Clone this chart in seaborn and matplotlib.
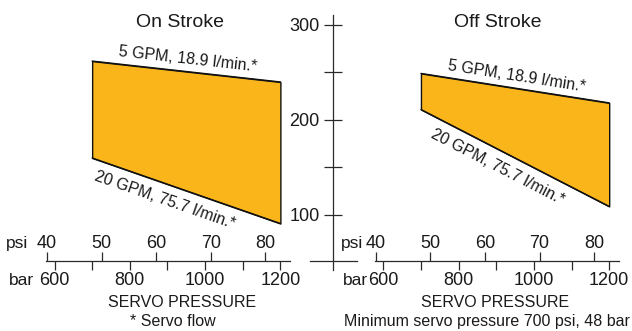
import numpy as np
import pandas as pd
import matplotlib.pyplot as plt
import seaborn as sns

# servo pressure (lower scale) where the flow band starts and ends
psi_range = [700, 1200]

# band edges (y axis units)
on_5gpm = [262, 240]
on_20gpm = [160, 91]
off_5gpm = [249, 218]
off_20gpm = [211, 109]

panel_titles = ["On Stroke", "Off Stroke"]
label_5gpm = "5 GPM, 18.9 l/min.*"
label_20gpm = "20 GPM, 75.7 l/min.*"

y_major = [100, 200, 300]
y_minor = [150, 250]
lower_major = [600, 800, 1000, 1200]
lower_minor = [700, 900, 1100]
upper_major = [40, 50, 60, 70, 80]
PSI_PER_BAR = 14.5

df = pd.DataFrame({
    "panel": ["On Stroke"] * 4 + ["Off Stroke"] * 4,
    "edge": ["5 GPM", "5 GPM", "20 GPM", "20 GPM"] * 2,
    "pressure": psi_range * 4,
    "flow": on_5gpm + on_20gpm + off_5gpm + off_20gpm,
})

sns.set_theme(style="white")
plt.rcParams["font.family"] = ["Liberation Sans", "DejaVu Sans"]

W, H = 632, 331
fig = plt.figure(figsize=(W / 100, H / 100), dpi=100)
ink = "#2a2a2a"
fill = "#f9b51a"

YLIM = (42.1, 310.5)
XLIM = (576.6, 1225.5)
AXIS_Y = 51.6


def px_box(x0, x1, y0=15, y1=270):
    return [x0 / W, 1 - y1 / H, (x1 - x0) / W, (y1 - y0) / H]


def edge_label(ax, xs, ys, text, at, gap, below):
    a, b = ax.transData.transform(list(zip(xs, ys)))
    ang = np.degrees(np.arctan2(b[1] - a[1], b[0] - a[0]))
    t = (at - xs[0]) / (xs[1] - xs[0])
    ym = ys[0] + t * (ys[1] - ys[0])
    r = np.radians(ang)
    ax.annotate(text, (at, ym), xytext=(-np.sin(r) * gap, np.cos(r) * gap),
                textcoords="offset points", rotation=ang, rotation_mode="anchor",
                ha="center", va="top" if below else "bottom",
                fontsize=11.5, color="#1a1a1a")


panels = [("On Stroke", 45.7, on_5gpm, on_20gpm, 908),
          ("Off Stroke", 374.5, off_5gpm, off_20gpm, 924)]

for name, x0, hi, lo, low_at in panels:
    ax = fig.add_axes(px_box(x0, x0 + 244.3))
    ax.patch.set_visible(False)
    ax.set_xlim(XLIM)
    ax.set_ylim(YLIM)
    ax.fill_between(psi_range, lo, hi, facecolor=fill, edgecolor="#111111", linewidth=1.0)
    sns.lineplot(data=df[df["panel"] == name], x="pressure", y="flow", units="edge",
                 estimator=None, color="#111111", linewidth=1.0, ax=ax, legend=False)
    ax.set(xlabel="", ylabel="")
    for s in ["top", "left", "right"]:
        ax.spines[s].set_visible(False)
    ax.spines["bottom"].set_position(("data", AXIS_Y))
    ax.spines["bottom"].set_color(ink)
    ax.spines["bottom"].set_linewidth(0.9)
    ax.set_yticks([])
    ax.set_xticks(lower_major)
    ax.set_xticks(lower_minor, minor=True)
    ax.tick_params(axis="x", which="both", direction="out", bottom=True, length=6.5,
                   width=0.9, color=ink, labelsize=13, labelcolor="#1a1a1a", pad=1.2)

    top = ax.twiny()
    top.set_xlim(XLIM[0] / PSI_PER_BAR, XLIM[1] / PSI_PER_BAR)
    for s in ["bottom", "left", "right", "top"]:
        top.spines[s].set_visible(False)
    top.spines["top"].set_position(("axes", (AXIS_Y - YLIM[0]) / (YLIM[1] - YLIM[0])))
    top.set_xticks(upper_major)
    top.tick_params(axis="x", direction="out", top=True, bottom=False, labeltop=True,
                    labelbottom=False, length=6.5, width=0.9, color=ink, labelsize=13,
                    labelcolor="#1a1a1a", pad=0.3)

    edge_label(ax, psi_range, hi, label_5gpm, 950, 3.3, False)
    edge_label(ax, psi_range, lo, label_20gpm, low_at, -6, True)

# shared flow axis in the middle
axc = fig.add_axes(px_box(310, 357.3))
axc.patch.set_visible(False)
axc.set_xlim(0, 1)
axc.set_ylim(YLIM)
axc.spines["top"].set_visible(False)
axc.spines["right"].set_visible(False)
axc.spines["left"].set_position(("axes", 0.4926))
axc.spines["bottom"].set_position(("data", AXIS_Y))
for s in ["left", "bottom"]:
    axc.spines[s].set_color(ink)
    axc.spines[s].set_linewidth(0.9)
axc.set_xticks([])
axc.set_yticks(y_major)
axc.set_yticks(y_minor, minor=True)
axc.tick_params(axis="y", which="both", direction="inout", left=True, length=12.7,
                width=0.9, color=ink, labelsize=13, labelcolor="#1a1a1a", pad=3.6)


def ftext(x, y, s, size=11.5, ha="center"):
    fig.text(x / W, 1 - y / H, s, ha=ha, va="baseline", fontsize=size, color="#1a1a1a")


ftext(180.3, 26.7, panel_titles[0], size=14)
ftext(497.8, 26.7, panel_titles[1], size=14)
for x in (17.5, 351.7):
    ftext(x, 248.3, "psi", size=12.5)
for x in (21.5, 355):
    ftext(x, 285, "bar", size=12.5)
ftext(181.7, 307.3, "SERVO PRESSURE")
ftext(495, 307.3, "SERVO PRESSURE")
ftext(173.3, 326, "* Servo flow")
ftext(486.7, 326, "Minimum servo pressure 700 psi, 48 bar")

fig.savefig("out.png", dpi=100)
